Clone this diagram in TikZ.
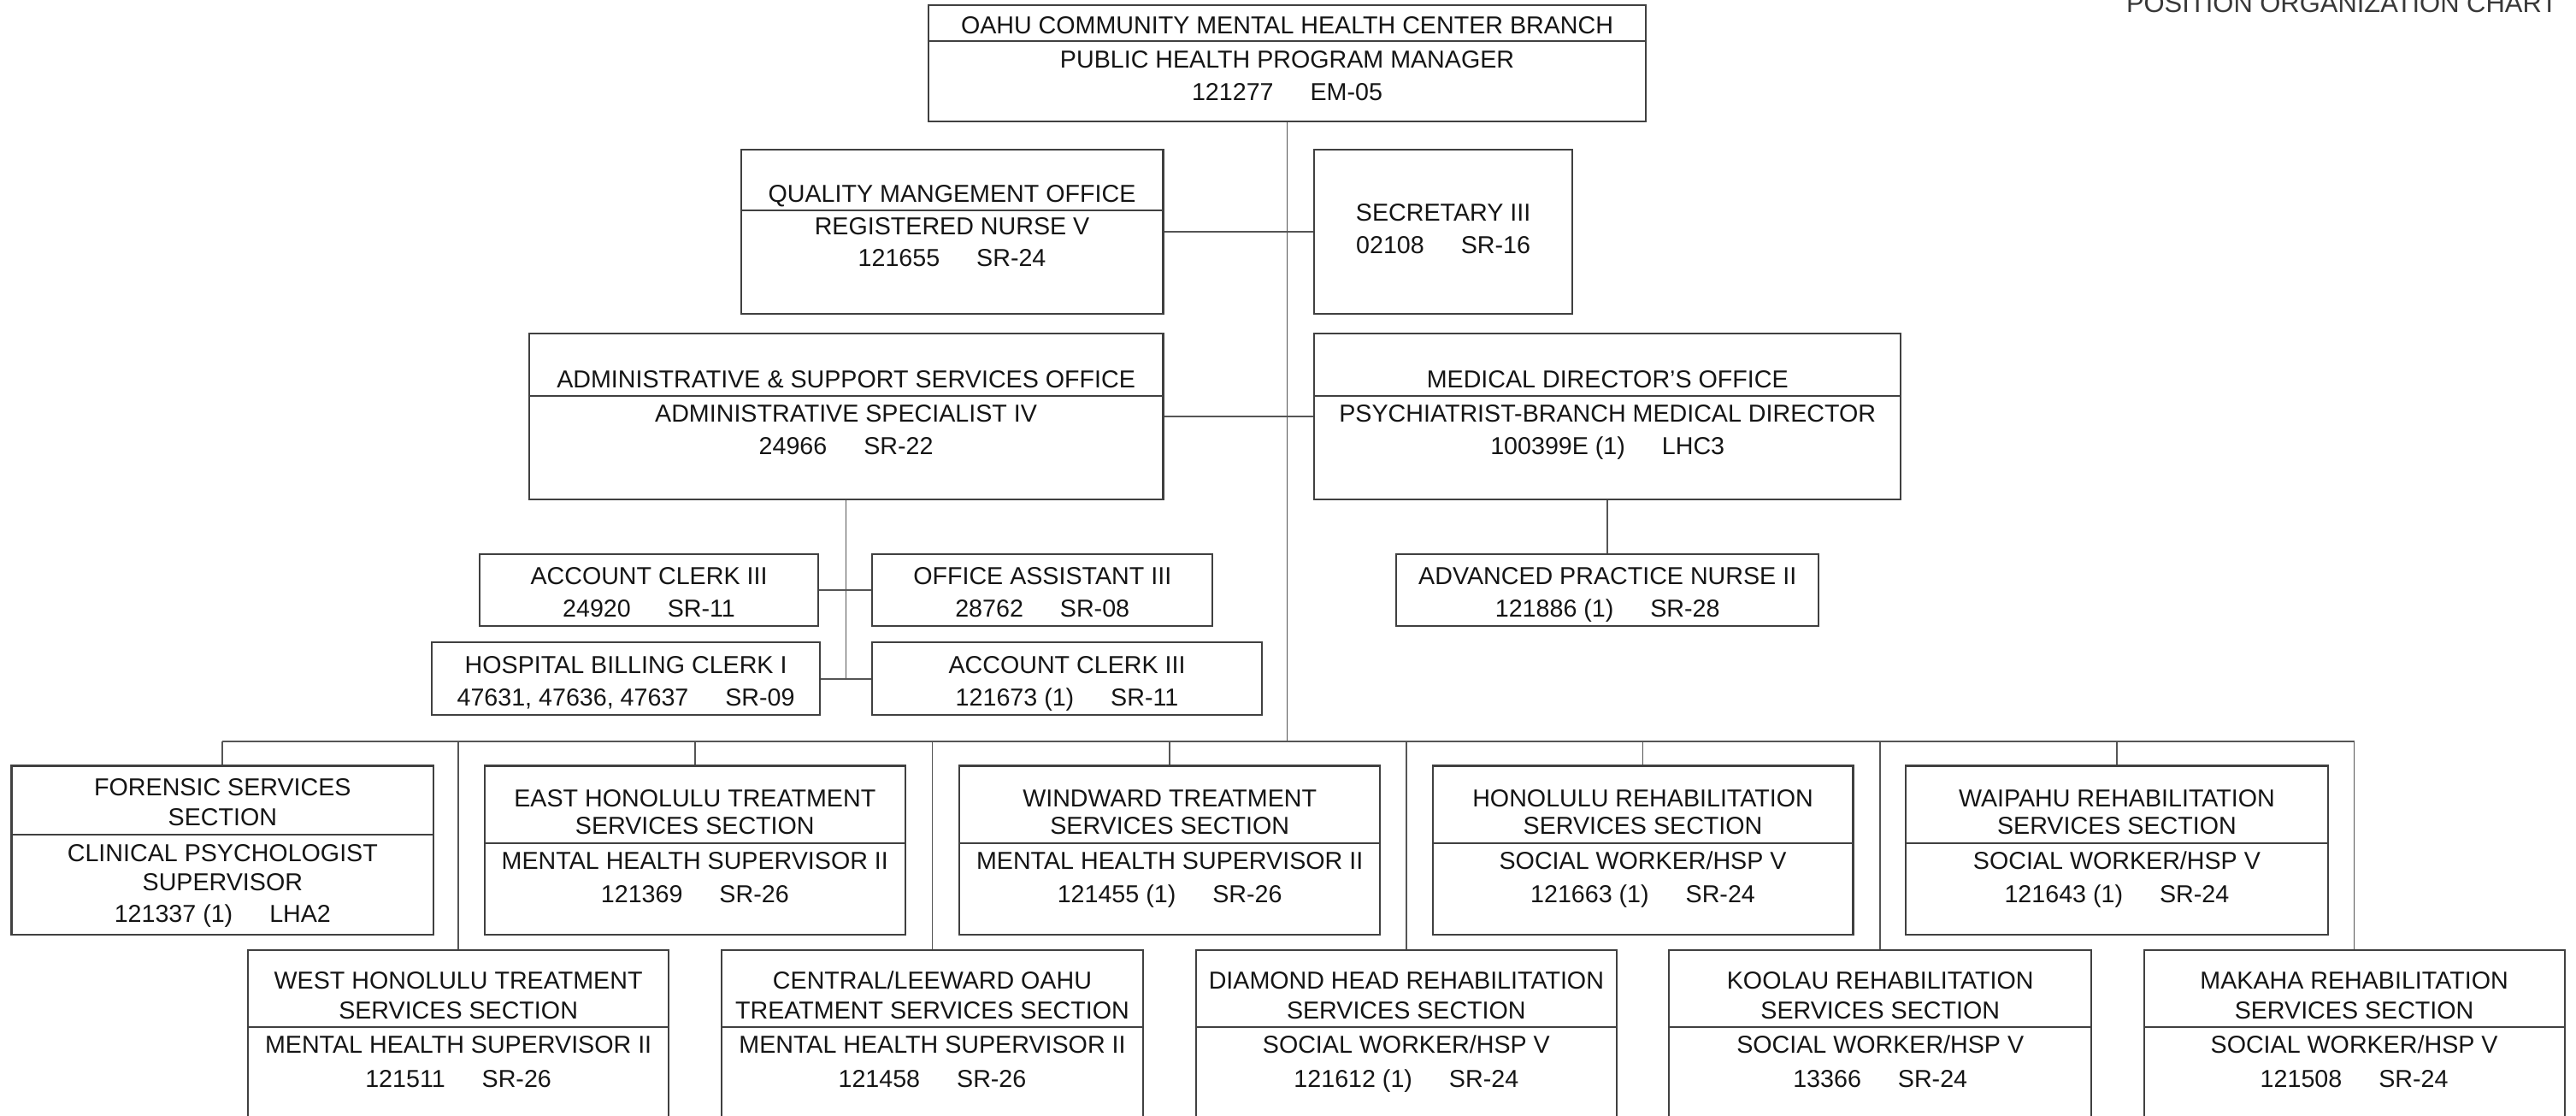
\documentclass[tikz,border=0pt]{standalone}
\usepackage{fontspec}
\setmainfont{Liberation Sans}
\usetikzlibrary{fit}
\definecolor{ink}{HTML}{151515}
\definecolor{edge}{HTML}{404040}
\definecolor{wire}{HTML}{555555}
\newcommand\ngap{\hspace{1.5em}}
\newcommand\obox[5]{\node[boxst, fit={(#2,#3) (#4,#5)}] (#1) {};}
\newcommand\odiv[2]{\draw[divst] (#1.west |- 0,#2) -- (#1.east |- 0,#2);}
\newcommand\otxt[4]{\node[txt] (#1) at (#2,#3) {#4};}
\begin{document}
\begin{tikzpicture}[x=0.019216cm, y=-0.019216cm,
  boxst/.style={draw=edge, line width=0.6pt, inner sep=0pt},
  divst/.style={draw=edge, line width=0.6pt},
  conn/.style={draw=wire, line width=0.5pt},
  txt/.style={inner sep=0pt, text=ink, font=\fontsize{8.15}{9}\selectfont, text height=5.83pt, text depth=0pt},
  ttl/.style={inner sep=0pt, text=ink!85, font=\fontsize{8.8}{10}\selectfont, anchor=base east}]
\useasboundingbox (0,0) rectangle (1568,679);

% title (cut at top)
\node[ttl] (title) at (1557,7.5) {POSITION ORGANIZATION CHART};

% top box
\obox{top}{565}{3}{1002}{74}
\odiv{top}{25}
\otxt{top-1}{783.5}{15}{OAHU COMMUNITY MENTAL HEALTH CENTER BRANCH}
\otxt{top-2}{783.5}{36}{PUBLIC HEALTH PROGRAM MANAGER}
\otxt{top-3}{783.5}{56}{121277\ngap EM-05}

% quality management
\obox{qmo}{451}{91}{708}{191}
\odiv{qmo}{128}
\otxt{qmo-1}{579.5}{117.5}{QUALITY MANGEMENT OFFICE}
\otxt{qmo-2}{579.5}{137.5}{REGISTERED NURSE V}
\otxt{qmo-3}{579.5}{157}{121655\ngap SR-24}

% secretary
\obox{sec}{800}{91}{957}{191}
\otxt{sec-1}{878.5}{129}{SECRETARY III}
\otxt{sec-2}{878.5}{149}{02108\ngap SR-16}

% admin
\obox{adm}{322}{203}{708}{304}
\odiv{adm}{241}
\otxt{adm-1}{515}{230.5}{ADMINISTRATIVE \& SUPPORT SERVICES OFFICE}
\otxt{adm-2}{515}{251.5}{ADMINISTRATIVE SPECIALIST IV}
\otxt{adm-3}{515}{271.5}{24966\ngap SR-22}

% medical
\obox{med}{800}{203}{1157}{304}
\odiv{med}{241}
\otxt{med-1}{978.5}{230.5}{MEDICAL DIRECTOR'S OFFICE}
\otxt{med-2}{978.5}{251.5}{PSYCHIATRIST-BRANCH MEDICAL DIRECTOR}
\otxt{med-3}{978.5}{271.5}{100399E (1)\ngap LHC3}

% admin staff
\obox{acl}{292}{337}{498}{381}
\otxt{acl-1}{395}{350.5}{ACCOUNT CLERK III}
\otxt{acl-2}{395}{370}{24920\ngap SR-11}
\obox{oas}{531}{337}{738}{381}
\otxt{oas-1}{634.5}{350.5}{OFFICE ASSISTANT III}
\otxt{oas-2}{634.5}{370}{28762\ngap SR-08}
\obox{hbc}{263}{391}{499}{435}
\otxt{hbc-1}{381}{404.5}{HOSPITAL BILLING CLERK I}
\otxt{hbc-2}{381}{424}{47631, 47636, 47637\ngap SR-09}
\obox{acr}{531}{391}{768}{435}
\otxt{acr-1}{649.5}{404.5}{ACCOUNT CLERK III}
\otxt{acr-2}{649.5}{424}{121673 (1)\ngap SR-11}

% APN
\obox{apn}{850}{337}{1107}{381}
\otxt{apn-1}{978.5}{350.5}{ADVANCED PRACTICE NURSE II}
\otxt{apn-2}{978.5}{370}{121886 (1)\ngap SR-28}

% row 1 sections
\obox{fs}{7}{466}{264}{569}
\odiv{fs}{508}
\otxt{fs-1}{135.5}{479}{FORENSIC SERVICES}
\otxt{fs-2}{135.5}{497}{SECTION}
\otxt{fs-3}{135.5}{519}{CLINICAL PSYCHOLOGIST}
\otxt{fs-4}{135.5}{536.5}{SUPERVISOR}
\otxt{fs-5}{135.5}{556}{121337 (1)\ngap LHA2}

\obox{eh}{295}{466}{551}{569}
\odiv{eh}{513}
\otxt{eh-1}{423}{485.5}{EAST HONOLULU TREATMENT}
\otxt{eh-2}{423}{502.5}{SERVICES SECTION}
\otxt{eh-3}{423}{523.5}{MENTAL HEALTH SUPERVISOR II}
\otxt{eh-4}{423}{544}{121369\ngap SR-26}

\obox{ww}{584}{466}{840}{569}
\odiv{ww}{513}
\otxt{ww-1}{712}{485.5}{WINDWARD TREATMENT}
\otxt{ww-2}{712}{502.5}{SERVICES SECTION}
\otxt{ww-3}{712}{523.5}{MENTAL HEALTH SUPERVISOR II}
\otxt{ww-4}{712}{544}{121455 (1)\ngap SR-26}

\obox{hr}{872}{466}{1128}{569}
\odiv{hr}{513}
\otxt{hr-1}{1000}{485.5}{HONOLULU REHABILITATION}
\otxt{hr-2}{1000}{502.5}{SERVICES SECTION}
\otxt{hr-3}{1000}{523.5}{SOCIAL WORKER/HSP V}
\otxt{hr-4}{1000}{544}{121663 (1)\ngap SR-24}

\obox{wr}{1160}{466}{1417}{569}
\odiv{wr}{513}
\otxt{wr-1}{1288.5}{485.5}{WAIPAHU REHABILITATION}
\otxt{wr-2}{1288.5}{502.5}{SERVICES SECTION}
\otxt{wr-3}{1288.5}{523.5}{SOCIAL WORKER/HSP V}
\otxt{wr-4}{1288.5}{544}{121643 (1)\ngap SR-24}

% row 2 sections (cut at bottom)
\obox{wh}{151}{578}{407}{700}
\odiv{wh}{625}
\otxt{wh-1}{279}{596.5}{WEST HONOLULU TREATMENT}
\otxt{wh-2}{279}{614.5}{SERVICES SECTION}
\otxt{wh-3}{279}{635.5}{MENTAL HEALTH SUPERVISOR II}
\otxt{wh-4}{279}{656.5}{121511\ngap SR-26}

\obox{cl}{439}{578}{696}{700}
\odiv{cl}{625}
\otxt{cl-1}{567.5}{596.5}{CENTRAL/LEEWARD OAHU}
\otxt{cl-2}{567.5}{614.5}{TREATMENT SERVICES SECTION}
\otxt{cl-3}{567.5}{635.5}{MENTAL HEALTH SUPERVISOR II}
\otxt{cl-4}{567.5}{656.5}{121458\ngap SR-26}

\obox{dh}{728}{578}{984}{700}
\odiv{dh}{625}
\otxt{dh-1}{856}{596.5}{DIAMOND HEAD REHABILITATION}
\otxt{dh-2}{856}{614.5}{SERVICES SECTION}
\otxt{dh-3}{856}{635.5}{SOCIAL WORKER/HSP V}
\otxt{dh-4}{856}{656.5}{121612 (1)\ngap SR-24}

\obox{kr}{1016}{578}{1273}{700}
\odiv{kr}{625}
\otxt{kr-1}{1144.5}{596.5}{KOOLAU REHABILITATION}
\otxt{kr-2}{1144.5}{614.5}{SERVICES SECTION}
\otxt{kr-3}{1144.5}{635.5}{SOCIAL WORKER/HSP V}
\otxt{kr-4}{1144.5}{656.5}{13366\ngap SR-24}

\obox{mk}{1305}{578}{1561}{700}
\odiv{mk}{625}
\otxt{mk-1}{1433}{596.5}{MAKAHA REHABILITATION}
\otxt{mk-2}{1433}{614.5}{SERVICES SECTION}
\otxt{mk-3}{1433}{635.5}{SOCIAL WORKER/HSP V}
\otxt{mk-4}{1433}{656.5}{121508\ngap SR-24}

% connectors
\coordinate (bus) at (0,451);
\draw[conn] (top.south) -- (top.south |- bus);
\draw[conn] (qmo.east) -- (sec.west);
\draw[conn] (adm.east) -- (med.west);
\draw[conn] (adm.south) -- (adm.south |- hbc.east);
\draw[conn] (acl.east) -- (oas.west);
\draw[conn] (hbc.east) -- (acr.west);
\draw[conn] (med.south) -- (apn.north);
\draw[conn] (fs.north |- bus) -- (mk.north |- bus);
\foreach \n in {fs,eh,ww,hr,wr,wh,cl,dh,kr,mk}{
  \draw[conn] (\n.north |- bus) -- (\n.north);
}
\end{tikzpicture}
\end{document}
